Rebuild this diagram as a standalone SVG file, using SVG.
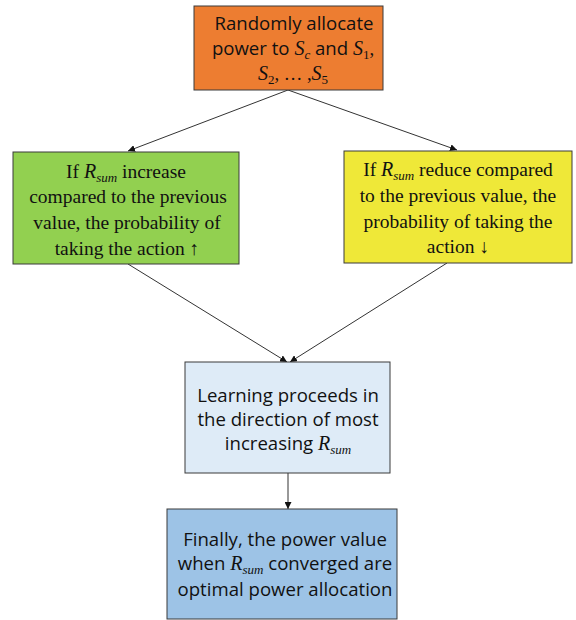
<svg xmlns="http://www.w3.org/2000/svg" width="576" height="620" viewBox="0 0 576 620">
<style>
.box{stroke:#3a3a3a;stroke-width:1}
.sans{font-family:"Open Sans","Noto Sans",sans-serif;font-size:18.6px;fill:#111;text-anchor:middle}
.serif{font-family:"Liberation Serif","DejaVu Serif",serif;font-size:19.5px;fill:#111;text-anchor:middle}
.m{font-family:"Liberation Serif",serif;font-style:italic;font-size:20px}
.sub{font-size:13px}
.num{font-family:"Liberation Serif",serif}
.conn line{stroke:#333;stroke-width:1}
</style>
<defs>
<marker id="ah" viewBox="0 0 10 10" refX="10" refY="5" markerWidth="7" markerHeight="7" orient="auto" markerUnits="userSpaceOnUse">
<path d="M0,0 L10,5 L0,10 z" fill="#111"/>
</marker>
</defs>
<rect width="576" height="620" fill="#fff"/>
<g class="conn">
<line x1="288" y1="90" x2="128" y2="151" marker-end="url(#ah)"/>
<line x1="288" y1="90" x2="457" y2="150" marker-end="url(#ah)"/>
<line x1="128" y1="264" x2="287" y2="362" marker-end="url(#ah)"/>
<line x1="447" y1="263" x2="290" y2="362" marker-end="url(#ah)"/>
<line x1="288" y1="473" x2="288" y2="509" marker-end="url(#ah)"/>
</g>
<g id="n1">
<rect class="box" x="194" y="6" width="189" height="84" fill="#ED7D31"/>
<text class="sans" x="294" y="30">Randomly allocate</text>
<text class="sans" x="293" y="55">power to <tspan class="m">S</tspan><tspan class="m sub" dy="3.5">c</tspan><tspan dy="-3.5"> and </tspan><tspan class="m">S</tspan><tspan class="num sub" dy="3.5">1</tspan><tspan class="num" dy="-3.5">,</tspan></text>
<text class="sans" x="293" y="80"><tspan class="m">S</tspan><tspan class="num sub" dy="3.5">2</tspan><tspan class="num" dy="-3.5">, … ,</tspan><tspan class="m">S</tspan><tspan class="num sub" dy="3.5">5</tspan></text>
</g>
<g id="n2">
<rect class="box" x="13" y="152" width="226" height="112" fill="#92D050"/>
<text class="serif" x="126" y="178">If <tspan class="m">R</tspan><tspan class="m sub" dy="3.5">sum</tspan><tspan dy="-3.5"> increase</tspan></text>
<text class="serif" x="128" y="203">compared to the previous</text>
<text class="serif" x="127" y="229">value, the probability of</text>
<text class="serif" x="127" y="255">taking the action ↑</text>
</g>
<g id="n3">
<rect class="box" x="344" y="151" width="228" height="112" fill="#EFE838"/>
<text class="serif" x="458" y="176">If <tspan class="m">R</tspan><tspan class="m sub" dy="3.5">sum</tspan><tspan dy="-3.5"> reduce compared</tspan></text>
<text class="serif" x="458" y="202">to the previous value, the</text>
<text class="serif" x="458" y="228">probability of taking the</text>
<text class="serif" x="458" y="253">action ↓</text>
</g>
<g id="n4">
<rect class="box" x="185" y="362" width="205" height="111" fill="#DEEBF7"/>
<text class="sans" x="288" y="402">Learning proceeds in</text>
<text class="sans" x="288" y="426">the direction of most</text>
<text class="sans" x="288" y="450">increasing <tspan class="m">R</tspan><tspan class="m sub" dy="3.5">sum</tspan></text>
</g>
<g id="n5">
<rect class="box" x="167" y="509" width="230" height="110" fill="#9DC3E6"/>
<text class="sans" x="285" y="546">Finally, the power value</text>
<text class="sans" x="285" y="570">when <tspan class="m">R</tspan><tspan class="m sub" dy="3.5">sum</tspan><tspan dy="-3.5"> converged are</tspan></text>
<text class="sans" x="285" y="596">optimal power allocation</text>
</g>
</svg>
